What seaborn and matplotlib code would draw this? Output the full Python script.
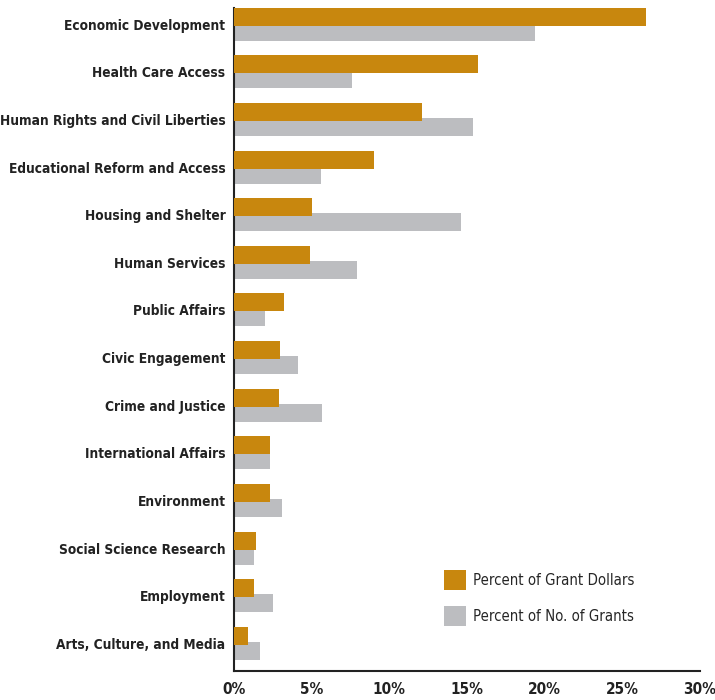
import pandas as pd
import matplotlib.pyplot as plt
import matplotlib.font_manager as fm
import seaborn as sns

categories = [
    "Economic Development", "Health Care Access", "Human Rights and Civil Liberties",
    "Educational Reform and Access", "Housing and Shelter", "Human Services",
    "Public Affairs", "Civic Engagement", "Crime and Justice", "International Affairs",
    "Environment", "Social Science Research", "Employment", "Arts, Culture, and Media",
]
grant_dollars = [26.5, 15.7, 12.1, 9.0, 5.0, 4.9, 3.2, 3.0, 2.9, 2.3, 2.3, 1.4, 1.3, 0.9]
no_of_grants = [19.4, 7.6, 15.4, 5.6, 14.6, 7.9, 2.0, 4.1, 5.7, 2.3, 3.1, 1.3, 2.5, 1.7]
series = ["Percent of Grant Dollars", "Percent of No. of Grants"]
x_ticks = [0, 5, 10, 15, 20, 25, 30]

df = pd.DataFrame({
    "category": categories * 2,
    "value": grant_dollars + no_of_grants,
    "series": [series[0]] * len(categories) + [series[1]] * len(categories),
})

sns.set_theme(style="white")
plt.rcParams["font.family"] = ["DejaVu Sans"]


def find_font(words, bold):
    # look for a condensed / narrow face among the installed files
    for f in fm.fontManager.ttflist:
        path = f.fname.lower()
        if any(w in path for w in words):
            is_bold = "bold" in path
            if is_bold == bold and "italic" not in path and "oblique" not in path:
                return fm.FontProperties(fname=f.fname)
    return None


bold_fp = find_font(["narrow", "condensed"], True)
reg_fp = find_font(["narrow", "condensed"], False)
if bold_fp is None:
    bold_fp = fm.FontProperties(family="DejaVu Sans", weight="bold")
if reg_fp is None:
    reg_fp = fm.FontProperties(family="DejaVu Sans")

fig = plt.figure(figsize=(7.15, 7.0), dpi=100)
ax = fig.add_axes([0.327, 0.041, 0.652, 0.948])

sns.barplot(data=df, y="category", x="value", hue="series", orient="h",
            palette=["#C8870E", "#BCBDC0"], width=0.63, saturation=1, linewidth=0,
            order=categories, hue_order=series, ax=ax)

# bars in the reference are a bit taller and overlap, gold on top
n = len(categories)
for i, p in enumerate(ax.patches[:2 * n]):
    cy = p.get_y() + p.get_height() / 2
    p.set_height(0.378)
    p.set_y(cy - 0.189)
    p.set_zorder(3 if i < n else 2)

ax.set_xlim(0, 30)
ax.set_ylim(13.59, -0.35)
ax.set_xticks(x_ticks)
ax.set_xticklabels([f"{t}%" for t in x_ticks], color="#222222")
for lab in ax.get_xticklabels():
    lab.set_fontproperties(bold_fp)
    lab.set_fontsize(11)
ax.set_yticks(range(n))
ax.set_yticklabels(categories, color="#222222")
for lab in ax.get_yticklabels():
    lab.set_fontproperties(bold_fp)
    lab.set_fontsize(9.8)
ax.tick_params(axis="y", length=0, pad=6)
ax.tick_params(axis="x", length=0, pad=8)
ax.set_xlabel("")
ax.set_ylabel("")

for side in ["top", "right"]:
    ax.spines[side].set_visible(False)
for side in ["left", "bottom"]:
    ax.spines[side].set_color("#222222")
    ax.spines[side].set_linewidth(1.5)

leg_fp = reg_fp.copy()
leg_fp.set_size(10.7)
ax.legend(loc="lower left", bbox_to_anchor=(0.45, 0.069), frameon=False, prop=leg_fp,
          borderaxespad=0, borderpad=0,
          handlelength=1.5, handleheight=1.65, labelspacing=1.1, handletextpad=0.45)

fig.savefig("out.png", dpi=100)
